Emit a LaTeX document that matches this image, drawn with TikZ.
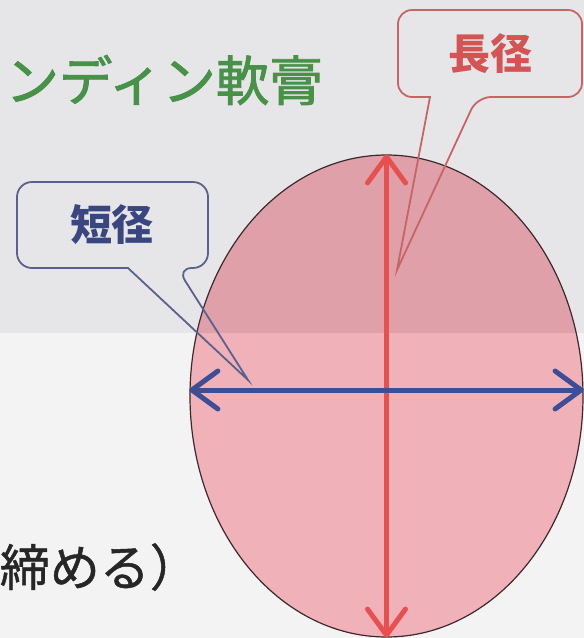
\documentclass[tikz,border=0pt]{standalone}
\usepackage{fontspec}
\newfontfamily\jp{Noto Sans CJK JP}
\newfontfamily\jpmed[FakeBold=1.6]{Noto Sans CJK JP}
\newfontfamily\jpsemi[FakeBold=0.9]{Noto Sans CJK JP}
\usetikzlibrary{shapes.geometric,arrows.meta}
\definecolor{bgtop}{RGB}{230,230,233}
\definecolor{bgbot}{RGB}{243,243,243}
\definecolor{pinktop}{RGB}{224,160,170}
\definecolor{pinkbot}{RGB}{240,177,185}
\definecolor{titlegreen}{RGB}{72,145,72}
\definecolor{longred}{RGB}{232,80,80}
\definecolor{longtext}{RGB}{212,84,84}
\definecolor{longline}{RGB}{200,100,100}
\definecolor{shortblue}{RGB}{60,78,150}
\definecolor{shorttext}{RGB}{58,70,128}
\definecolor{shortline}{RGB}{88,98,140}
\definecolor{rimcol}{RGB}{60,40,45}
\begin{document}
\begin{tikzpicture}[x=1pt,y=-1pt,
  barb/.style={line width=5pt,{Straight Barb[length=26pt,width=38pt,round]}-{Straight Barb[length=26pt,width=38pt,round]}},
  callout/.style={line width=1.8pt},
  lbl/.style={inner sep=0pt,font=\jp\bfseries\fontsize{42}{42}\selectfont}]
\useasboundingbox (0,0) rectangle (584,638);
\fill[bgtop] (0,0) rectangle (584,333);
\fill[bgbot] (0,333) rectangle (584,638);
\fill[pinkbot] (386.5,396) ellipse [x radius=196.5, y radius=241];
\begin{scope}
  \clip (386.5,396) ellipse [x radius=196.5, y radius=241];
  \fill[pinktop] (0,0) rectangle (584,333);
\end{scope}
\node[ellipse, draw=rimcol, line width=1.2pt, minimum width=393pt, minimum height=482pt, inner sep=0pt] (E) at (386.5,396) {};
% title texts
\node[anchor=east, inner sep=0pt, text=titlegreen, font=\jpmed\fontsize{53.5}{53.5}\selectfont] (title) at (323,80) {ンディン軟膏};
\node[anchor=east, inner sep=0pt, text=black!85, font=\jpsemi\fontsize{50}{50}\selectfont] (tail) at (200,567) {締める）};
% arrows
\draw[barb, longred] (E.south) -- (E.north);
\draw[barb, shortblue] ([yshift=6pt]E.west) -- ([yshift=6pt]E.east);
% callouts
\draw[callout, longline] (430,97) [rounded corners=14pt] -- (398,97) -- (398,10) -- (582,10) -- (582,97) -- (477,97) [sharp corners] -- (397,270) -- cycle;
\node[lbl, text=longtext] (long) at (490,54) {長径};
\draw[callout, shortline] (128,268) [rounded corners=15pt] -- (17,268) -- (17,182) -- (208,182) -- (208,268) -- (177,268) [sharp corners] -- (248,380) -- cycle;
\node[lbl, text=shorttext] (short) at (112,225) {短径};
\end{tikzpicture}
\end{document}
